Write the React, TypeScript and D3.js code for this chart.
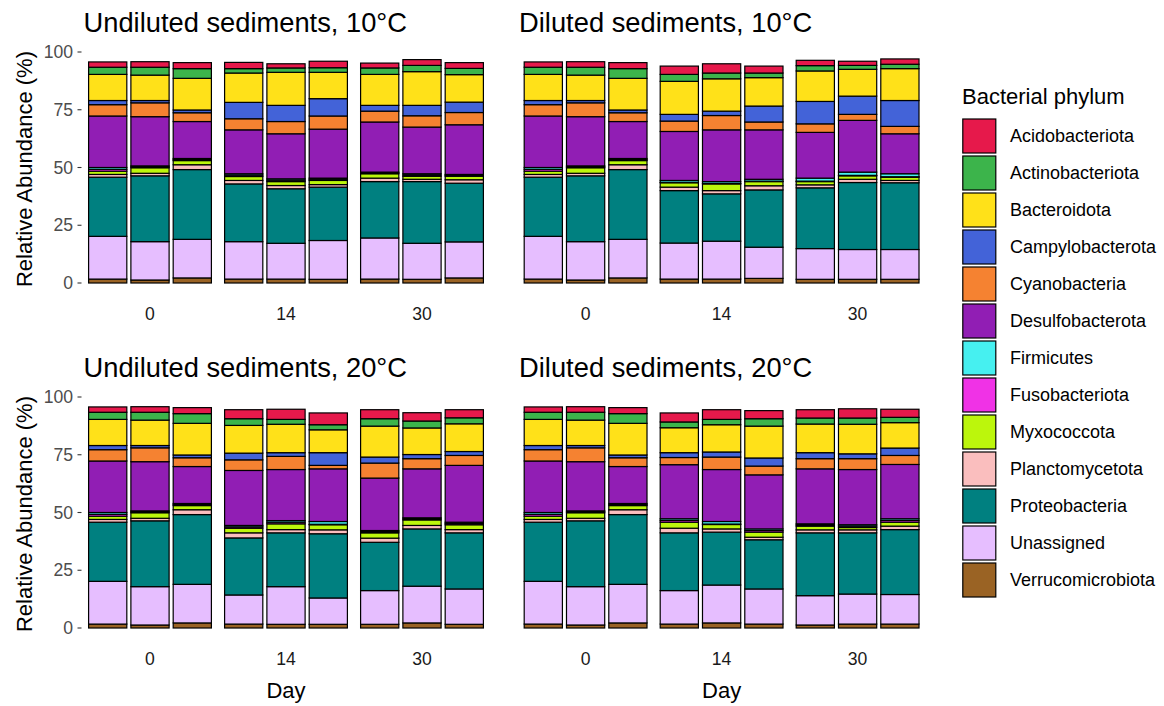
import React from "react";
import * as d3 from "d3";

// Relative abundance (%) per sample; 4 panels x (3 days x 3 replicates) = 36 bars each
const panelTitles = [
  "Undiluted sediments, 10°C",
  "Diluted sediments, 10°C",
  "Undiluted sediments, 20°C",
  "Diluted sediments, 20°C",
];
const dayLabels = ["0", "14", "30"];
const yTicks = [0, 25, 50, 75, 100];

const phyla = [
  "Acidobacteriota",
  "Actinobacteriota",
  "Bacteroidota",
  "Campylobacterota",
  "Cyanobacteria",
  "Desulfobacterota",
  "Firmicutes",
  "Fusobacteriota",
  "Myxococcota",
  "Planctomycetota",
  "Proteobacteria",
  "Unassigned",
  "Verrucomicrobiota",
];
const phylumColors = [
  "#E6194B", "#3CB44B", "#FFE119", "#4363D8", "#F58231", "#911EB4",
  "#46F0F0", "#F032E6", "#BCF60C", "#FABEBE", "#008080", "#E6BEFF", "#9A6324",
];

const verrucomicrobiota = [
  1.7, 1.3, 2.2, 1.7, 1.7, 1.6, 1.7, 1.6, 2.2,
  1.7, 1.3, 2.2, 1.7, 1.7, 2.0, 1.6, 1.6, 1.6,
  1.7, 1.3, 2.2, 1.7, 1.6, 1.6, 1.6, 2.2, 1.6,
  1.7, 1.3, 2.2, 1.7, 2.2, 1.7, 1.3, 1.7, 1.7,
];
const unassigned = [
  18.5, 16.6, 16.7, 16.2, 15.5, 16.8, 17.8, 15.6, 15.6,
  18.5, 16.6, 16.7, 15.6, 16.4, 13.5, 13.3, 12.9, 12.9,
  18.5, 16.6, 16.7, 12.6, 16.3, 11.4, 14.6, 15.9, 15.3,
  18.5, 16.6, 16.7, 14.5, 16.4, 15.2, 12.7, 13.0, 12.8,
];
const proteobacteria = [
  25.6, 28.5, 30.2, 25.0, 23.6, 23.1, 24.4, 26.7, 25.4,
  25.6, 28.5, 30.2, 22.7, 20.5, 24.8, 26.3, 29.0, 28.9,
  25.6, 28.5, 30.2, 24.7, 23.3, 27.8, 20.9, 24.8, 24.3,
  25.6, 28.5, 30.2, 25.0, 22.9, 21.3, 27.2, 26.5, 28.1,
];
const planctomycetota = [
  1.2, 1.1, 2.1, 1.5, 1.4, 1.1, 1.5, 1.0, 1.5,
  1.2, 1.1, 2.1, 1.5, 1.4, 1.8, 1.3, 1.4, 1.0,
  1.2, 1.1, 2.1, 2.2, 1.4, 1.7, 1.8, 1.5, 1.4,
  1.2, 1.1, 2.1, 2.0, 1.4, 1.1, 1.3, 1.3, 1.5,
];
const myxococcota = [
  1.4, 2.4, 1.8, 1.7, 1.7, 1.8, 1.9, 1.3, 1.5,
  1.4, 2.4, 1.8, 1.9, 2.9, 1.8, 1.4, 1.5, 1.4,
  1.4, 2.4, 1.8, 2.0, 2.5, 2.2, 2.3, 2.4, 2.1,
  1.4, 2.4, 1.8, 2.6, 1.9, 2.2, 1.6, 1.0, 1.7,
];
const fusobacteriota = [
  0.8, 0.4, 0.45, 0.6, 0.6, 0.5, 0.35, 0.55, 0.4,
  0.8, 0.4, 0.45, 0.2, 0.2, 0.2, 0.2, 0.2, 0.2,
  0.8, 0.4, 0.45, 0.6, 0.7, 0.2, 0.5, 0.45, 0.55,
  0.8, 0.4, 0.45, 0.75, 0.2, 0.7, 0.5, 0.6, 0.75,
];
const firmicutes = [
  0.8, 0.4, 0.45, 0.6, 0.6, 0.5, 0.35, 0.55, 0.4,
  0.8, 0.4, 0.45, 0.8, 0.8, 0.8, 1.3, 1.4, 1.3,
  0.8, 0.4, 0.45, 0.6, 0.7, 1.2, 0.5, 0.45, 0.55,
  0.8, 0.4, 0.45, 0.75, 1.1, 0.7, 0.5, 0.6, 0.75,
];
const desulfobacterota = [
  22.3, 21.3, 16.0, 19.0, 19.5, 21.2, 21.7, 20.2, 21.5,
  22.3, 21.3, 16.0, 21.2, 22.4, 21.4, 19.8, 22.4, 17.3,
  22.3, 21.3, 16.0, 23.8, 22.1, 22.8, 22.7, 21.2, 24.6,
  22.3, 21.3, 16.0, 23.4, 22.5, 23.4, 23.8, 23.9, 23.5,
];
const cyanobacteria = [
  4.9, 6.0, 3.8, 4.8, 5.3, 5.7, 4.7, 4.9, 5.3,
  4.9, 6.0, 3.8, 4.5, 6.2, 3.4, 3.7, 2.6, 3.2,
  4.9, 6.0, 3.8, 4.6, 5.7, 1.5, 6.5, 4.4, 4.3,
  4.9, 6.0, 3.8, 3.1, 5.4, 3.8, 4.4, 4.7, 3.9,
];
const campylobacterota = [
  1.8, 1.0, 1.2, 7.1, 7.0, 7.5, 2.5, 4.5, 4.5,
  1.8, 1.0, 1.2, 2.9, 1.9, 6.9, 9.7, 7.9, 11.2,
  1.8, 1.0, 1.2, 2.9, 1.6, 5.5, 2.6, 1.8, 1.7,
  1.8, 1.0, 1.2, 2.1, 2.2, 3.5, 2.6, 2.1, 3.2,
];
const bacteroidota = [
  11.3, 11.0, 13.7, 12.7, 14.3, 11.4, 13.4, 14.6, 11.9,
  11.3, 11.0, 13.7, 14.3, 14.0, 12.3, 13.2, 11.6, 13.8,
  11.3, 11.0, 13.7, 12.0, 12.3, 9.9, 13.4, 11.5, 12.0,
  11.3, 11.0, 13.7, 10.8, 11.8, 13.8, 12.4, 12.8, 11.0,
];
const actinobacteriota = [
  3.1, 3.4, 4.2, 1.9, 1.9, 2.0, 2.8, 2.7, 2.7,
  3.1, 3.4, 4.2, 3.0, 2.5, 2.0, 2.3, 1.7, 1.9,
  3.1, 3.4, 4.2, 2.9, 2.1, 2.2, 3.2, 3.0, 2.6,
  3.1, 3.4, 4.2, 2.5, 2.3, 3.2, 2.6, 2.7, 2.3,
];
const acidobacteriota = [
  2.3, 2.4, 2.6, 2.7, 1.8, 2.8, 2.1, 2.5, 2.5,
  2.3, 2.4, 2.6, 3.6, 4.0, 3.0, 2.3, 1.8, 2.3,
  2.3, 2.4, 2.6, 3.9, 4.4, 5.1, 3.9, 3.6, 3.5,
  2.3, 2.4, 2.6, 3.9, 4.2, 3.5, 3.6, 4.0, 3.5,
];

const seriesByPhylum: Record<string, number[]> = {
  Acidobacteriota: acidobacteriota,
  Actinobacteriota: actinobacteriota,
  Bacteroidota: bacteroidota,
  Campylobacterota: campylobacterota,
  Cyanobacteria: cyanobacteria,
  Desulfobacterota: desulfobacterota,
  Firmicutes: firmicutes,
  Fusobacteriota: fusobacteriota,
  Myxococcota: myxococcota,
  Planctomycetota: planctomycetota,
  Proteobacteria: proteobacteria,
  Unassigned: unassigned,
  Verrucomicrobiota: verrucomicrobiota,
};

const FONT = "'Liberation Sans', Arial, Helvetica, sans-serif";
const W = 1164;
const H = 706;

const panelLefts = [82, 517.6, 82, 517.6];
const panelYOffsets = [0, 0, 345, 345];
const panelWidth = 408;
const dodgeStep = 0.311;
const barWidthUnits = 0.281;

const color = d3.scaleOrdinal<string, string>().domain(phyla).range(phylumColors);

export default function App() {
  // rows: one per sample bar
  const rows = d3.range(36).map((i) => {
    const r: Record<string, number> = {
      panel: Math.floor(i / 9),
      day: Math.floor((i % 9) / 3),
      rep: i % 3,
    };
    phyla.forEach((p) => (r[p] = seriesByPhylum[p][i]));
    return r;
  });

  // stack from the bottom (last phylum) to the top (first phylum)
  const stackKeys = [...phyla].reverse();
  const stacked = d3.stack<Record<string, number>>().keys(stackKeys)(rows);

  return (
    <svg
      width={W}
      height={H}
      style={{ position: "absolute", left: 0, top: 0, display: "block", fontFamily: FONT }}
    >
      <rect width={W} height={H} fill="#fff" />
      {panelTitles.map((title, pi) => {
        const left = panelLefts[pi];
        const off = panelYOffsets[pi];
        const x = d3.scaleLinear().domain([0.5, 3.5]).range([left, left + panelWidth]);
        const y = d3.scaleLinear().domain([0, 100]).range([283 + off, 52 + off]);
        const unit = x(1) - x(0);
        const bw = barWidthUnits * unit;
        const showY = pi % 2 === 0;
        const showDay = pi >= 2;
        return (
          <g key={title}>
            <text x={left + 1.5} y={31.5 + off} fontSize={27.3} fill="#000">
              {title}
            </text>
            {stacked.map((layer) => (
              <g key={layer.key} fill={color(layer.key)}>
                {layer
                  .filter((s) => s.data.panel === pi)
                  .map((s, j) => {
                    const cx = x(s.data.day + 1 + (s.data.rep - 1) * dodgeStep);
                    return (
                      <rect
                        key={j}
                        x={cx - bw / 2}
                        y={y(s[1])}
                        width={bw}
                        height={Math.max(0, y(s[0]) - y(s[1]))}
                        stroke="#000"
                        strokeWidth={1.2}
                      />
                    );
                  })}
              </g>
            ))}
            {showY &&
              yTicks.map((t) => (
                <g key={t}>
                  <line x1={77.5} x2={81.5} y1={y(t)} y2={y(t)} stroke="#333" strokeWidth={1.1} />
                  <text x={73} y={y(t)} dy="0.35em" textAnchor="end" fontSize={17.6} fill="#4D4D4D">
                    {t}
                  </text>
                </g>
              ))}
            {dayLabels.map((d, di) => (
              <text key={d} x={x(di + 1)} y={320 + off} textAnchor="middle" fontSize={17.6} fill="#1A1A1A">
                {d}
              </text>
            ))}
            {showY && (
              <text
                transform={`translate(32, ${169 + off}) rotate(-90)`}
                textAnchor="middle"
                fontSize={22}
                fill="#000"
              >
                Relative Abundance (%)
              </text>
            )}
            {showDay && (
              <text x={left + panelWidth / 2} y={697.5} textAnchor="middle" fontSize={22} fill="#000">
                Day
              </text>
            )}
          </g>
        );
      })}
      <g>
        <text x={962} y={104} fontSize={22} fill="#000">
          Bacterial phylum
        </text>
        {phyla.map((p, i) => {
          const top = 119 + i * 37;
          return (
            <g key={p}>
              <rect x={962.8} y={top} width={33} height={34} fill={color(p)} stroke="#000" strokeWidth={1.2} />
              <text x={1010} y={top + 17} dy="0.35em" fontSize={18} fill="#000">
                {p}
              </text>
            </g>
          );
        })}
      </g>
    </svg>
  );
}
